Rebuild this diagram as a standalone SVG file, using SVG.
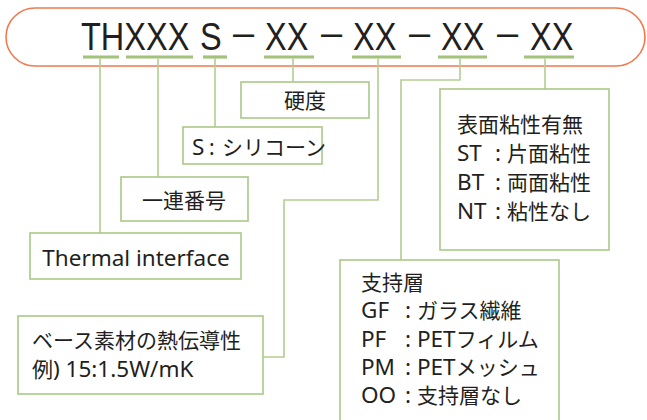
<svg xmlns="http://www.w3.org/2000/svg" width="647" height="420" viewBox="0 0 647 420">
<style>
.box{fill:#fff;stroke:#abc887;stroke-width:1.6}
.ln{fill:none;stroke:#b3cd90;stroke-width:1.6}
.ul{stroke:#a3c27a;stroke-width:3.2}
.t{font-family:"Noto Sans","Noto Sans CJK JP",sans-serif;font-size:21px;fill:#231f20}
.l{font-size:22.5px}
.title{font-family:"Liberation Sans",Arial,sans-serif;font-size:32.5px;fill:#231f20}
.dash{font-family:"Liberation Sans",Arial,sans-serif;font-size:38px;fill:#231f20}
</style>
<rect width="647" height="420" fill="#fff"/>
<g id="header">
<rect x="6" y="8" width="639" height="58" rx="29" fill="none" stroke="#f07a4f" stroke-width="1.6"/>
<g transform="translate(0,50) scale(1,1.18)">
<text class="title" x="81" y="0">THXXX</text>
<text class="title" x="200" y="0">S</text>
<text class="title" x="265" y="0">XX</text>
<text class="title" x="353" y="0">XX</text>
<text class="title" x="441" y="0">XX</text>
<text class="title" x="530" y="0">XX</text>
</g>
<text class="dash" x="233" y="46">–</text>
<text class="dash" x="321" y="46">–</text>
<text class="dash" x="409" y="46">–</text>
<text class="dash" x="497" y="46">–</text>
<g class="ul">
<line x1="83" y1="57" x2="119" y2="57"/>
<line x1="126" y1="57" x2="193" y2="57"/>
<line x1="203" y1="57" x2="227" y2="57"/>
<line x1="264" y1="57" x2="314" y2="57"/>
<line x1="352" y1="57" x2="401" y2="57"/>
<line x1="438" y1="57" x2="487" y2="57"/>
<line x1="524" y1="57" x2="574" y2="57"/>
</g>
</g>
<g id="connectors" class="ln">
<path d="M100 58.6V233"/>
<path d="M158 58.6V177"/>
<path d="M215 58.6V127"/>
<path d="M293 58.6V82"/>
<path d="M378 58.6V200H284V357H263"/>
<path d="M460 58.6V80H401V260"/>
<path d="M545 58.6V89"/>
</g>
<g id="hardness">
<rect class="box" x="241" y="82" width="128" height="36"/>
<text class="t" x="305" y="108" text-anchor="middle">硬度</text>
</g>
<g id="silicone">
<rect class="box" x="183" y="127" width="139" height="37"/>
<text class="t" x="192" y="155"><tspan class="l">S</tspan><tspan x="209">:</tspan><tspan x="222">シリコーン</tspan></text>
</g>
<g id="serial">
<rect class="box" x="121" y="177" width="127" height="44"/>
<text class="t" x="184" y="208" text-anchor="middle">一連番号</text>
</g>
<g id="thermal">
<rect class="box" x="30" y="233" width="211" height="46"/>
<text class="t l" x="136" y="266" text-anchor="middle">Thermal interface</text>
</g>
<g id="conductivity">
<rect class="box" x="18" y="316" width="245" height="78"/>
<text class="t" x="32" y="348">ベース素材の熱伝導性</text>
<text class="t" x="32" y="377">例<tspan class="l">) 15:1.5W/mK</tspan></text>
</g>
<g id="tack">
<rect class="box" x="440" y="89" width="169" height="161"/>
<text class="t" x="457" y="132">表面粘性有無</text>
<text class="t" x="457" y="161"><tspan class="l">ST</tspan><tspan class="l" x="495">:</tspan><tspan x="507">片面粘性</tspan></text>
<text class="t" x="457" y="190"><tspan class="l">BT</tspan><tspan class="l" x="495">:</tspan><tspan x="507">両面粘性</tspan></text>
<text class="t" x="457" y="219"><tspan class="l">NT</tspan><tspan class="l" x="495">:</tspan><tspan x="507">粘性なし</tspan></text>
</g>
<g id="support">
<rect class="box" x="340" y="260" width="219" height="175"/>
<text class="t" x="361" y="290">支持層</text>
<text class="t" x="361" y="318"><tspan class="l">GF</tspan><tspan class="l" x="405">:</tspan><tspan x="417">ガラス繊維</tspan></text>
<text class="t" x="361" y="346.5"><tspan class="l">PF</tspan><tspan class="l" x="405">:</tspan><tspan class="l" x="417">PET</tspan><tspan>フィルム</tspan></text>
<text class="t" x="361" y="375"><tspan class="l">PM</tspan><tspan class="l" x="405">:</tspan><tspan class="l" x="417">PET</tspan><tspan>メッシュ</tspan></text>
<text class="t" x="361" y="403"><tspan class="l">OO</tspan><tspan class="l" x="405">:</tspan><tspan x="417">支持層なし</tspan></text>
</g>
</svg>
